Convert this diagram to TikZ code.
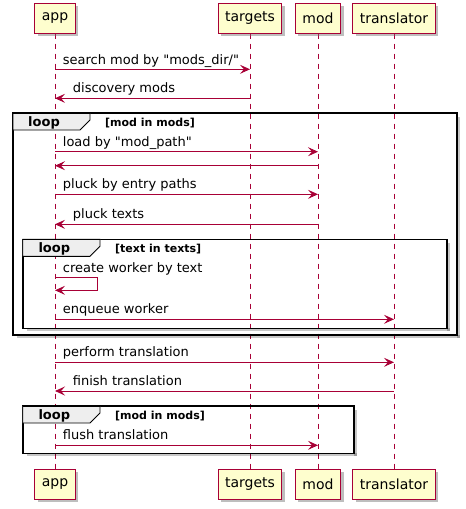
\documentclass[tikz,border=0pt]{standalone}
\usepackage{fontspec}
\newfontfamily\dv{DejaVu Sans}
\usetikzlibrary{arrows.meta,shadows}
\definecolor{pu}{HTML}{A80036}
\definecolor{pbox}{HTML}{FEFECE}
\definecolor{tabg}{HTML}{EEEEEE}
\begin{document}
\begin{tikzpicture}[x=1pt,y=-1pt,
  part/.style={draw=pu, fill=pbox, line width=1pt, minimum height=30pt, inner xsep=7pt,
    font=\dv\fontsize{14}{16}\selectfont,
    drop shadow={shadow xshift=3pt, shadow yshift=-3pt, opacity=0.3}},
  life/.style={draw=pu, dash pattern=on 5pt off 5pt, line width=0.8pt},
  msg/.style={draw=pu, line width=0.9pt, -{Stealth[length=10pt,width=9pt,inset=4pt]}},
  lbl/.style={anchor=base west, inner sep=0pt, font=\dv\fontsize{13}{15}\selectfont},
  frm/.style={draw=black, line width=1.6pt},
  fshadow/.style={fill=black, opacity=0.22},
  tabst/.style={fill=tabg, draw=black, line width=0.9pt},
  looplbl/.style={anchor=base west, inner sep=0pt, font=\dv\fontsize{13}{15}\selectfont\bfseries},
  condlbl/.style={anchor=base west, inner sep=0pt, font=\dv\fontsize{11}{13}\selectfont\bfseries}
]
\useasboundingbox (0,0) rectangle (466,509);

% participant positions
\coordinate (pA) at (55,18);
\coordinate (pT) at (250,18);
\coordinate (pM) at (318,18);
\coordinate (pR) at (394,18);
\coordinate (bA) at (55,484);
\coordinate (bT) at (250,484);
\coordinate (bM) at (318,484);
\coordinate (bR) at (394,484);

\node[part] (app) at (pA) {app};
\node[part] (targets) at (pT) {targets};
\node[part] (mod) at (pM) {mod};
\node[part] (translator) at (pR) {translator};
\node[part] (app2) at (bA) {app};
\node[part] (targets2) at (bT) {targets};
\node[part] (mod2) at (bM) {mod};
\node[part] (translator2) at (bR) {translator};

% lifelines
\draw[life] (app.south) -- (app2.north);
\draw[life] (targets.south) -- (targets2.north);
\draw[life] (mod.south) -- (mod2.north);
\draw[life] (translator.south) -- (translator2.north);

% loop frames: shadows
\fill[fshadow] (17,335) rectangle (460,338);
\fill[fshadow] (457,117) rectangle (460,338);
\fill[fshadow] (27,328.3) rectangle (449.7,331.3);
\fill[fshadow] (446.7,243) rectangle (449.7,331.3);
\fill[fshadow] (27,453.3) rectangle (357,456.3);
\fill[fshadow] (354,410) rectangle (357,456.3);

% frames
\draw[frm] (13,113) rectangle (457,335);
\draw[frm] (22.7,239.3) rectangle (446.7,328.3);
\draw[frm] (22.7,406) rectangle (354,453.3);

% tabs
\draw[tabst] (13,113) -- (90,113) -- (90,120) -- (80,130) -- (13,130) -- cycle;
\draw[frm] (13,113) -- (90,113);
\node[looplbl] (lp1) at (28,126.5) {loop};
\node[condlbl] (c1) at (105,126) {[mod in mods]};

\draw[tabst] (22.7,239.3) -- (100,239.3) -- (100,246.3) -- (90,256.3) -- (22.7,256.3) -- cycle;
\draw[frm] (22.7,239.3) -- (100,239.3);
\node[looplbl] (lp2) at (38.3,252.8) {loop};
\node[condlbl] (c2) at (115,252.3) {[text in texts]};

\draw[tabst] (22.7,406) -- (100,406) -- (100,413) -- (90,423) -- (22.7,423) -- cycle;
\draw[frm] (22.7,406) -- (100,406);
\node[looplbl] (lp3) at (38.3,419.5) {loop};
\node[condlbl] (c3) at (115,419) {[mod in mods]};

% message levels
\coordinate (y1) at (0,69.3);
\coordinate (y2) at (0,98.3);
\coordinate (y3) at (0,151.7);
\coordinate (y4) at (0,165.7);
\coordinate (y5) at (0,194.3);
\coordinate (y6) at (0,224.3);
\coordinate (y7a) at (0,277.7);
\coordinate (y7b) at (0,290.3);
\coordinate (y8) at (0,319.3);
\coordinate (y9) at (0,362.3);
\coordinate (y10) at (0,391);
\coordinate (y11) at (0,445.3);
\coordinate (sx) at (97.3,0);

% messages
\draw[msg] (app |- y1) -- (targets |- y1);
\node[lbl] (t1) at (62.7,64) {search mod by "mods\_dir/"};
\draw[msg] (targets |- y2) -- (app |- y2);
\node[lbl] (t2) at (72.7,92.8) {discovery mods};
\draw[msg] (app |- y3) -- (mod |- y3);
\node[lbl] (t3) at (62.7,146.2) {load by "mod\_path"};
\draw[msg] (mod |- y4) -- (app |- y4);
\draw[msg] (app |- y5) -- (mod |- y5);
\node[lbl] (t5) at (62.7,188.8) {pluck by entry paths};
\draw[msg] (mod |- y6) -- (app |- y6);
\node[lbl] (t6) at (72.7,218.8) {pluck texts};
\draw[msg] (app |- y7a) -- (sx |- y7a) -- (sx |- y7b) -- (app |- y7b);
\node[lbl] (t7) at (62.7,272.2) {create worker by text};
\draw[msg] (app |- y8) -- (translator |- y8);
\node[lbl] (t8) at (62.7,313.8) {enqueue worker};
\draw[msg] (app |- y9) -- (translator |- y9);
\node[lbl] (t9) at (62.7,356.8) {perform translation};
\draw[msg] (translator |- y10) -- (app |- y10);
\node[lbl] (t10) at (72.7,385.5) {finish translation};
\draw[msg] (app |- y11) -- (mod |- y11);
\node[lbl] (t11) at (62.7,439.8) {flush translation};

% participants on top
\node[part] at (pA) {app};
\node[part] at (pT) {targets};
\node[part] at (pM) {mod};
\node[part] at (pR) {translator};
\node[part] at (bA) {app};
\node[part] at (bT) {targets};
\node[part] at (bM) {mod};
\node[part] at (bR) {translator};
\end{tikzpicture}
\end{document}
